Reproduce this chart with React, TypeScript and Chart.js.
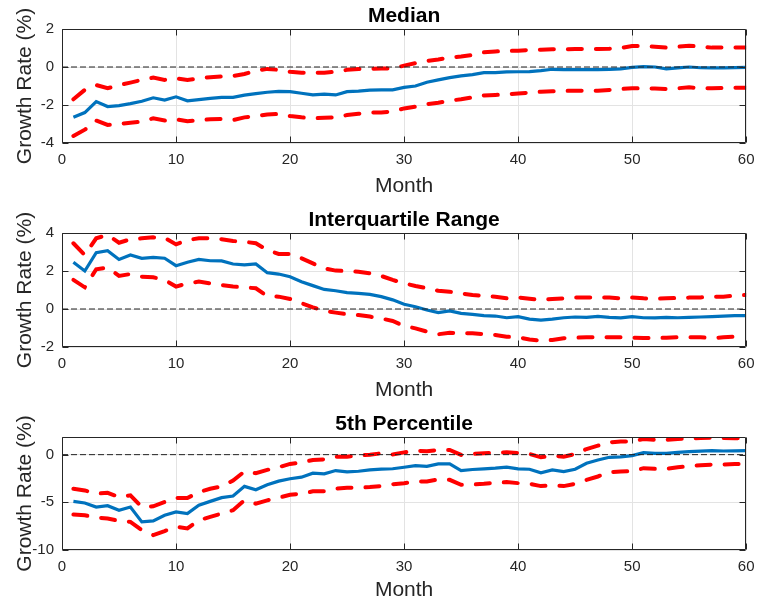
import React, { useEffect, useRef } from "react";
import { Chart, registerables } from "chart.js";

Chart.register(...registerables);

// ---------------- DATA ----------------
const MONTHS = [
  1, 2, 3, 4, 5, 6, 7, 8, 9, 10, 11, 12, 13, 14, 15, 16, 17, 18, 19, 20,
  21, 22, 23, 24, 25, 26, 27, 28, 29, 30, 31, 32, 33, 34, 35, 36, 37, 38, 39, 40,
  41, 42, 43, 44, 45, 46, 47, 48, 49, 50, 51, 52, 53, 54, 55, 56, 57, 58, 59, 60,
];
const X_TICKS = [0, 10, 20, 30, 40, 50, 60];
const X_LIMITS = [0, 60];
const ZERO_LINE_X = [0, 60];

const TITLES = ["Median", "Interquartile Range", "5th Percentile"];
const X_LABEL = "Month";
const Y_LABEL = "Growth Rate (%)";

const MEDIAN_MID = [
  -2.65, -2.4, -1.82, -2.08, -2.03, -1.93, -1.8, -1.62, -1.74, -1.57,
  -1.78, -1.72, -1.65, -1.6, -1.6, -1.48, -1.4, -1.33, -1.28, -1.3,
  -1.38, -1.47, -1.43, -1.47, -1.3, -1.27, -1.22, -1.2, -1.2, -1.07,
  -1.0, -0.8, -0.68, -0.56, -0.47, -0.4, -0.3, -0.3, -0.26, -0.25,
  -0.24, -0.19, -0.12, -0.14, -0.14, -0.14, -0.14, -0.12, -0.1, -0.02,
  0.02, 0.0, -0.1, -0.05, 0.0, -0.04, -0.05, -0.05, -0.03, -0.02,
];
const MEDIAN_UPPER = [
  -1.7, -1.2, -0.95, -1.12, -0.95, -0.82, -0.68, -0.56, -0.68, -0.6,
  -0.68, -0.6, -0.54, -0.5, -0.47, -0.37, -0.2, -0.1, -0.15, -0.25,
  -0.3, -0.3, -0.3, -0.25, -0.15, -0.1, -0.1, -0.08, -0.07, 0.07,
  0.2, 0.32, 0.4, 0.5, 0.55, 0.63, 0.77, 0.82, 0.84, 0.86,
  0.9, 0.91, 0.93, 0.93, 0.95, 0.95, 0.95, 0.96, 1.0, 1.1,
  1.1, 1.07, 1.02, 1.07, 1.12, 1.07, 1.02, 1.02, 1.02, 1.02,
];
const MEDIAN_LOWER = [
  -3.63, -3.3, -2.82, -3.05, -3.0, -2.93, -2.88, -2.7, -2.82, -2.75,
  -2.86, -2.8, -2.75, -2.74, -2.79, -2.65, -2.58, -2.5, -2.47, -2.58,
  -2.65, -2.7, -2.67, -2.65, -2.53, -2.46, -2.4, -2.4, -2.33, -2.18,
  -2.09, -1.96, -1.88, -1.77, -1.7, -1.6, -1.5, -1.47, -1.44, -1.39,
  -1.35, -1.3, -1.28, -1.26, -1.25, -1.25, -1.25, -1.21, -1.16, -1.12,
  -1.13, -1.13, -1.16, -1.12, -1.07, -1.12, -1.12, -1.1, -1.09, -1.09,
];
const MEDIAN_Y_TICKS = [-4, -2, 0, 2];
const MEDIAN_Y_LIMITS = [-4, 2];

const IQR_MID = [
  2.46, 2.0, 2.96, 3.07, 2.61, 2.84, 2.67, 2.72, 2.67, 2.28,
  2.46, 2.61, 2.54, 2.53, 2.37, 2.32, 2.37, 1.91, 1.84, 1.7,
  1.44, 1.23, 1.03, 0.96, 0.86, 0.82, 0.77, 0.65, 0.48, 0.25,
  0.12, -0.05, -0.19, -0.1, -0.23, -0.28, -0.35, -0.37, -0.46, -0.4,
  -0.53, -0.58, -0.53, -0.46, -0.42, -0.44, -0.39, -0.44, -0.47, -0.4,
  -0.46, -0.47, -0.44, -0.46, -0.44, -0.42, -0.4, -0.37, -0.35, -0.35,
];
const IQR_UPPER = [
  3.46, 2.84, 3.72, 3.9, 3.49, 3.67, 3.72, 3.77, 3.75, 3.4,
  3.63, 3.72, 3.72, 3.67, 3.58, 3.54, 3.46, 3.1, 2.9, 2.9,
  2.67, 2.4, 2.14, 2.02, 2.0, 1.96, 1.88, 1.74, 1.53, 1.35,
  1.21, 1.09, 0.96, 0.91, 0.82, 0.74, 0.68, 0.65, 0.56, 0.61,
  0.54, 0.47, 0.53, 0.56, 0.61, 0.61, 0.61, 0.6, 0.56, 0.6,
  0.56, 0.54, 0.56, 0.58, 0.6, 0.61, 0.65, 0.65, 0.7, 0.74,
];
const IQR_LOWER = [
  1.53, 1.14, 2.09, 2.18, 1.74, 1.84, 1.7, 1.67, 1.53, 1.18,
  1.35, 1.44, 1.35, 1.26, 1.18, 1.14, 1.09, 0.68, 0.65, 0.53,
  0.3, 0.09, -0.1, -0.19, -0.28, -0.32, -0.4, -0.5, -0.63, -0.89,
  -1.02, -1.19, -1.33, -1.25, -1.28, -1.28, -1.32, -1.37, -1.46, -1.49,
  -1.6, -1.67, -1.63, -1.54, -1.51, -1.49, -1.49, -1.49, -1.49, -1.51,
  -1.53, -1.53, -1.51, -1.49, -1.49, -1.49, -1.53, -1.49, -1.46, -1.42,
];
const IQR_Y_TICKS = [-2, 0, 2, 4];
const IQR_Y_LIMITS = [-2, 4];

const P5_MID = [
  -4.9, -5.07, -5.49, -5.35, -5.83, -5.49, -7.05, -6.94, -6.35, -6.0,
  -6.18, -5.31, -4.9, -4.51, -4.34, -3.33, -3.68, -3.16, -2.78, -2.53,
  -2.36, -1.94, -2.01, -1.67, -1.8, -1.74, -1.6, -1.52, -1.48, -1.32,
  -1.15, -1.22, -0.97, -0.97, -1.67, -1.56, -1.49, -1.42, -1.32, -1.49,
  -1.53, -1.91, -1.6, -1.77, -1.53, -0.9, -0.56, -0.28, -0.24, -0.1,
  0.21, 0.14, 0.14, 0.24, 0.31, 0.36, 0.42, 0.38, 0.4, 0.42,
];
const P5_UPPER = [
  -3.58, -3.75, -4.1, -4.0, -4.44, -4.27, -5.49, -5.42, -4.97, -4.55,
  -4.55, -3.92, -3.58, -3.33, -2.71, -1.77, -1.94, -1.6, -1.32, -0.97,
  -0.83, -0.56, -0.49, -0.21, -0.21, -0.1, 0.0, 0.14, 0.02, 0.24,
  0.42, 0.35, 0.49, 0.49, -0.03, 0.07, 0.14, 0.21, 0.24, 0.17,
  0.07, -0.28, -0.1, -0.21, 0.07, 0.59, 0.94, 1.28, 1.39, 1.39,
  1.63, 1.56, 1.56, 1.63, 1.7, 1.74, 1.77, 1.74, 1.72, 1.7,
];
const P5_LOWER = [
  -6.28, -6.35, -6.6, -6.7, -6.94, -7.05, -7.92, -8.44, -8.02, -7.57,
  -7.74, -6.88, -6.53, -6.18, -5.83, -4.79, -5.14, -4.79, -4.51, -4.2,
  -4.1, -3.85, -3.85, -3.58, -3.47, -3.47, -3.4, -3.3, -3.1, -2.99,
  -2.81, -2.81, -2.6, -2.64, -3.16, -3.13, -3.06, -2.95, -2.88, -2.99,
  -3.06, -3.3, -3.23, -3.3, -3.06, -2.64, -2.29, -1.84, -1.77, -1.74,
  -1.42, -1.49, -1.49, -1.32, -1.22, -1.11, -1.04, -1.04, -0.97, -0.97,
];
const P5_Y_TICKS = [-10, -5, 0];
const P5_Y_LIMITS = [-10, 1.85];

// ---------------- STYLE ----------------
const FONT = "'Liberation Sans', Arial, Helvetica, sans-serif";
const AXIS_COLOR = "#262626";
const GRID_COLOR = "#e3e3e3";
const BLUE = "#0072BD";
const RED = "#FF0000";

const PANELS = [
  { title: TITLES[0], mid: MEDIAN_MID, upper: MEDIAN_UPPER, lower: MEDIAN_LOWER, yTicks: MEDIAN_Y_TICKS, yLim: MEDIAN_Y_LIMITS, top: 0, height: 200, plotH: 114, xTitlePad: 1.6 },
  { title: TITLES[1], mid: IQR_MID, upper: IQR_UPPER, lower: IQR_LOWER, yTicks: IQR_Y_TICKS, yLim: IQR_Y_LIMITS, top: 204, height: 200, plotH: 114, xTitlePad: 1.6 },
  { title: TITLES[2], mid: P5_MID, upper: P5_UPPER, lower: P5_LOWER, yTicks: P5_Y_TICKS, yLim: P5_Y_LIMITS, top: 408, height: 195, plotH: 113, xTitlePad: 0 },
];

const TITLE_BLOCK = 29;
const PLOT_LEFT = 62;
const RIGHT_PAD = 8;

const framePlugin = {
  id: "matlabFrame",
  afterDraw(chart: any, _args: any, opts: any) {
    const { ctx, chartArea: a, scales } = chart;
    const L = Math.round(a.left) + 0.5;
    const R = Math.round(a.right) - 0.5;
    const T = Math.round(a.top) + 0.5;
    const B = Math.round(a.bottom) - 0.5;
    const tl = 6;
    ctx.save();
    ctx.strokeStyle = AXIS_COLOR;
    ctx.lineWidth = 1;
    ctx.beginPath();
    ctx.rect(L, T, R - L, B - T);
    ctx.stroke();
    ctx.beginPath();
    (opts.xTicks || []).forEach((v: number) => {
      const px = Math.round(scales.x.getPixelForValue(v)) + 0.5;
      ctx.moveTo(px, B);
      ctx.lineTo(px, B - tl);
      ctx.moveTo(px, T);
      ctx.lineTo(px, T + tl);
    });
    (opts.yTicks || []).forEach((v: number) => {
      const py = Math.round(scales.y.getPixelForValue(v)) + 0.5;
      ctx.moveTo(L, py);
      ctx.lineTo(L + tl, py);
      ctx.moveTo(R, py);
      ctx.lineTo(R - tl, py);
    });
    ctx.stroke();
    ctx.restore();
  },
};

function Panel(props: any) {
  const { p } = props;
  const ref = useRef<HTMLCanvasElement | null>(null);

  useEffect(() => {
    if (!ref.current) return;
    const toXY = (arr: number[]) => MONTHS.map((m, i) => ({ x: m, y: arr[i] }));
    const axisH = p.height - TITLE_BLOCK - p.plotH;
    const redStyle = {
      borderColor: RED,
      borderWidth: 4,
      borderDash: [14, 14],
      borderCapStyle: "round",
      pointRadius: 0,
      tension: 0,
    };
    const chart = new Chart(ref.current, {
      type: "line",
      data: {
        datasets: [
          {
            data: ZERO_LINE_X.map((x) => ({ x, y: 0 })),
            borderColor: "#222222",
            borderWidth: 1,
            borderDash: [6, 3],
            pointRadius: 0,
            tension: 0,
          },
          { data: toXY(p.upper), ...redStyle },
          { data: toXY(p.lower), ...redStyle },
          {
            data: toXY(p.mid),
            borderColor: BLUE,
            borderWidth: 3.2,
            pointRadius: 0,
            tension: 0,
          },
        ],
      },
      options: {
        animation: false,
        responsive: false,
        devicePixelRatio: 1,
        layout: { padding: { left: 0, right: RIGHT_PAD, top: 0, bottom: 0 } },
        plugins: {
          legend: { display: false },
          tooltip: { enabled: false },
          title: {
            display: true,
            text: p.title,
            fullSize: false,
            color: "#000000",
            font: { family: FONT, size: 21, weight: "bold" },
            padding: { top: 3.5, bottom: 0.3 },
          },
          matlabFrame: { xTicks: X_TICKS, yTicks: p.yTicks },
        } as any,
        scales: {
          x: {
            type: "linear",
            min: X_LIMITS[0],
            max: X_LIMITS[1],
            afterBuildTicks: (scale: any) => {
              scale.ticks = X_TICKS.map((v) => ({ value: v }));
            },
            afterFit: (scale: any) => {
              scale.height = axisH;
            },
            grid: { color: GRID_COLOR, lineWidth: 1, drawTicks: false },
            border: { display: false },
            ticks: {
              color: AXIS_COLOR,
              font: { family: FONT, size: 15 },
              padding: 7.5,
              maxRotation: 0,
            },
            title: {
              display: true,
              text: X_LABEL,
              color: AXIS_COLOR,
              font: { family: FONT, size: 21 },
              padding: { top: 0, bottom: p.xTitlePad },
            },
          },
          y: {
            type: "linear",
            min: p.yLim[0],
            max: p.yLim[1],
            afterBuildTicks: (scale: any) => {
              scale.ticks = p.yTicks.map((v: number) => ({ value: v }));
            },
            afterFit: (scale: any) => {
              scale.width = PLOT_LEFT;
            },
            grid: { color: GRID_COLOR, lineWidth: 1, drawTicks: false },
            border: { display: false },
            ticks: {
              color: AXIS_COLOR,
              font: { family: FONT, size: 15 },
              padding: 8,
            },
            title: {
              display: true,
              text: Y_LABEL,
              color: AXIS_COLOR,
              font: { family: FONT, size: 21 },
              padding: { top: 12.4, bottom: 0 },
            },
          },
        },
      } as any,
      plugins: [framePlugin],
    });
    return () => chart.destroy();
  }, [p]);

  return (
    <canvas
      ref={ref}
      width={762}
      height={p.height}
      style={{ position: "absolute", left: 0, top: p.top, width: 762, height: p.height, display: "block" }}
    />
  );
}

export default function App() {
  return (
    <div style={{ position: "absolute", left: 0, top: 0, width: 762, height: 603, background: "#ffffff" }}>
      {PANELS.map((p, i) => (
        <Panel key={i} p={p} />
      ))}
    </div>
  );
}
